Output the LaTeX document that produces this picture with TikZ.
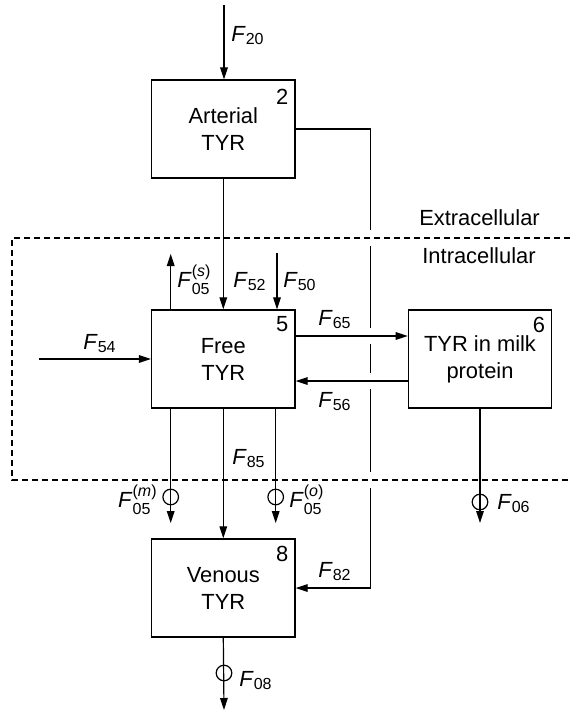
\documentclass[tikz,border=0pt]{standalone}
\usepackage{fontspec}
\usepackage{amsmath}
\setmainfont{Liberation Sans}
\usetikzlibrary{arrows.meta}
\newcommand{\flow}[1]{\textit{F}$_{\text{#1}}$}
\newcommand{\flowx}[2]{\textit{F}$^{\text{(\textit{#2})}}_{\text{#1}}$}
\tikzset{
  pool/.style={draw, line width=0.65pt, minimum width=71.7pt, minimum height=49pt,
    align=center, inner sep=0pt, font=\fontsize{10.95}{13.5}\selectfont},
  tag/.style={inner sep=0pt, font=\fontsize{10.95}{13}\selectfont},
  flow/.style={line width=0.6pt, -{Triangle[length=6pt,width=3.8pt]}},
  valve/.style={line width=0.6pt},
  membrane/.style={line width=0.55pt, dash pattern=on 3pt off 2pt},
}
\begin{document}
\begin{tikzpicture}[x=0.5pt, y=-0.5pt]
\useasboundingbox (0,0) rectangle (570,712);
% compartments
\node[pool] (art) at (223.3,129) {Arterial\\TYR};
\node[pool] (free) at (223.3,359) {Free\\TYR};
\node[pool] (milk) at (480,359) {TYR in milk\\protein};
\node[pool] (ven) at (223.3,588) {Venous\\TYR};
\node[tag, anchor=north east] (n2) at ([xshift=-3.5pt,yshift=-4.5pt]art.north east) {2};
\node[tag, anchor=north east] (n5) at ([xshift=-3.5pt,yshift=-3.5pt]free.north east) {5};
\node[tag, anchor=north east] (n6) at ([xshift=-3.5pt,yshift=-3.5pt]milk.north east) {6};
\node[tag, anchor=north east] (n8) at ([xshift=-3.5pt,yshift=-3.5pt]ven.north east) {8};
% arterial to venous shunt, broken where lines cross it
\coordinate (bend) at (370.7,0);
\draw[flow] (art.east) -- (art.east -| bend) -- (bend |- ven.east) -- (ven.east);
\foreach \y in {238,336,381,480}
  \draw[white, line width=3pt] (370.7,\y-8) -- (370.7,\y+8);
\node[tag, anchor=base west] (l82) at (318,577) {\flow{82}};
% cell membrane
\coordinate (mtl) at (12,238);
\coordinate (mtr) at (570,238);
\coordinate (mbl) at (12,480);
\coordinate (mbr) at (570,480);
\draw[membrane] (mtr) -- (mtl) -- (mbl) -- (mbr);
\node[tag, anchor=base] (extra) at (479.5,225) {Extracellular};
\node[tag, anchor=base] (intra) at (479,263) {Intracellular};
% inputs
\coordinate (f20) at (224,5);
\draw[flow] (f20) -- (f20 |- art.north);
\node[tag, anchor=base west] (l20) at (231,41) {\flow{20}};
\draw[flow] (art.south) -- (free.north);
\node[tag, anchor=base west] (l52) at (233,287) {\flow{52}};
\coordinate (f50) at (277,253);
\draw[flow] (f50) -- (f50 |- free.north);
\node[tag, anchor=base west] (l50) at (283,287) {\flow{50}};
\coordinate (f54) at (39,359);
\draw[flow] (f54) -- (free.west);
\node[tag, anchor=base west] (l54) at (83,349) {\flow{54}};
% exchange with milk protein
\draw[flow] ([yshift=11.5pt]free.east) -- ([yshift=11.5pt]milk.west);
\node[tag, anchor=base west] (l65) at (318,325) {\flow{65}};
\draw[flow] ([yshift=-11pt]milk.west) -- ([yshift=-11pt]free.east);
\node[tag, anchor=base west] (l56) at (318,407) {\flow{56}};
% outputs
\coordinate (f05s) at (170.7,254);
\draw[flow] (f05s |- free.north) -- (f05s);
\node[tag, anchor=base west] (l05s) at (177,287) {\flowx{05}{s}};
\draw[flow] (free.south) -- (ven.north);
\node[tag, anchor=base west] (l85) at (232,464) {\flow{85}};
\coordinate (f05m) at (170.7,523);
\draw[flow] (f05m |- free.south) -- (f05m);
\draw[valve] (170.7,497) circle[radius=3.9pt];
\node[tag, anchor=base east] (l05m) at (158,507) {\flowx{05}{m}};
\coordinate (f05o) at (275.7,523);
\draw[flow] (f05o |- free.south) -- (f05o);
\draw[valve] (275.7,497) circle[radius=3.9pt];
\node[tag, anchor=base west] (l05o) at (289,507) {\flowx{05}{o}};
\coordinate (f06) at (480,523);
\draw[flow] (milk.south) -- (f06);
\draw[valve] (480,502) circle[radius=3.9pt];
\node[tag, anchor=base west] (l06) at (497,509) {\flow{06}};
\coordinate (f08) at (224,710);
\draw[flow] (ven.south) -- (f08);
\draw[valve] (224,673) circle[radius=3.9pt];
\node[tag, anchor=base west] (l08) at (239,686) {\flow{08}};
\end{tikzpicture}
\end{document}
